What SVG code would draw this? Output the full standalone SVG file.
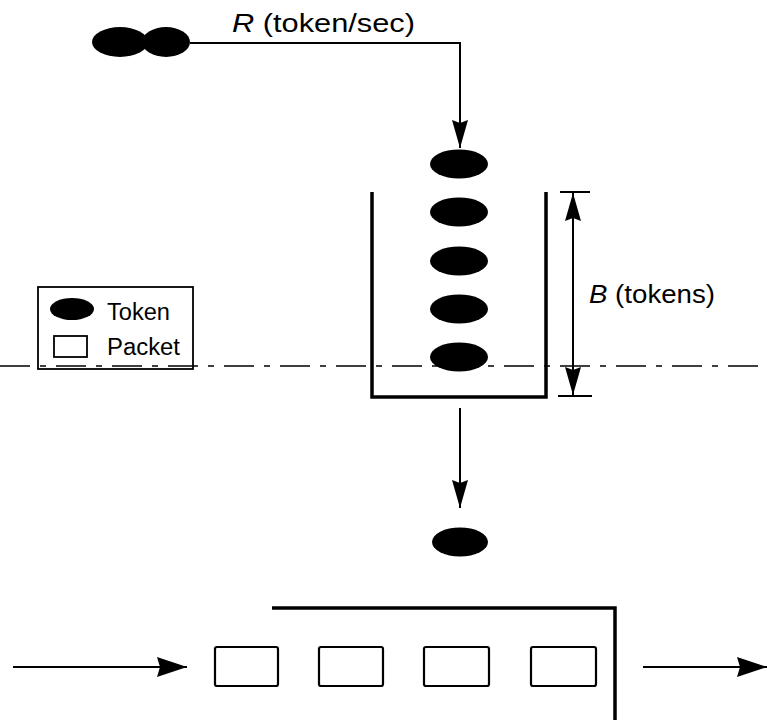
<svg xmlns="http://www.w3.org/2000/svg" width="767" height="721" viewBox="0 0 767 721">
<style>
.tok{fill:#000}
.ln{stroke:#000;fill:none;stroke-width:2}
.wall{stroke:#000;fill:none;stroke-width:3.5}
.pkt{stroke:#000;fill:#fff;stroke-width:2.2}
.txt{font-family:"Liberation Sans",Arial,sans-serif;fill:#000}
</style>
<defs>
<marker id="ah" markerUnits="userSpaceOnUse" markerWidth="32" markerHeight="22" refX="30" refY="11" orient="auto">
<path d="M0,1 L30,11 L0,21 L3,11 z" fill="#000"/>
</marker>
<marker id="av" markerUnits="userSpaceOnUse" markerWidth="30" markerHeight="18" refX="28" refY="9" orient="auto-start-reverse">
<path d="M0,1 L28,9 L0,17 L3,9 z" fill="#000"/>
</marker>
</defs>
<rect width="767" height="721" fill="#fff"/>

<g id="source">
<ellipse class="tok" cx="120" cy="42" rx="28" ry="15"/>
<ellipse class="tok" cx="166" cy="42" rx="24" ry="15"/>
</g>
<g id="rate-label">
<text class="txt" x="232" y="32" font-size="25" textLength="183" lengthAdjust="spacingAndGlyphs"><tspan font-style="italic">R</tspan> (token/sec)</text>
</g>

<g id="bucket">
<path class="wall" d="M372,192 V397 H546 V192"/>
<ellipse class="tok" cx="459" cy="164" rx="29" ry="14.5"/>
<ellipse class="tok" cx="459" cy="212" rx="29" ry="14.5"/>
<ellipse class="tok" cx="459" cy="261" rx="29" ry="14.5"/>
<ellipse class="tok" cx="459" cy="309" rx="29" ry="14.5"/>
<ellipse class="tok" cx="459" cy="357" rx="29" ry="14.5"/>
</g>

<g id="dimension">
<line class="ln" x1="560" y1="192" x2="590" y2="192" stroke-width="1.5"/>
<line class="ln" x1="558" y1="396" x2="592" y2="396" stroke-width="2.5"/>
<line class="ln" x1="573" y1="193" x2="573" y2="395" stroke-width="1.5" marker-start="url(#av)" marker-end="url(#av)"/>
<text class="txt" x="589" y="303" font-size="25" textLength="126" lengthAdjust="spacingAndGlyphs"><tspan font-style="italic">B</tspan> (tokens)</text>
</g>

<g id="legend">
<rect x="38" y="287" width="155" height="82" fill="none" stroke="#000" stroke-width="1.8"/>
<ellipse class="tok" cx="72" cy="309" rx="22" ry="11"/>
<text class="txt" x="107" y="320" font-size="23" textLength="63" lengthAdjust="spacingAndGlyphs">Token</text>
<rect x="54" y="336" width="33" height="21" fill="none" stroke="#000" stroke-width="1.8"/>
<text class="txt" x="107" y="355" font-size="23" textLength="73" lengthAdjust="spacingAndGlyphs">Packet</text>
</g>

<g id="out-token">
<ellipse class="tok" cx="460" cy="542" rx="28" ry="14.5"/>
</g>

<g id="queue">
<path class="wall" d="M272,608 H615 V720"/>
<rect class="pkt" x="215" y="647" width="63" height="39" rx="2"/>
<rect class="pkt" x="319" y="647" width="64" height="39" rx="2"/>
<rect class="pkt" x="424" y="647" width="65" height="39" rx="2"/>
<rect class="pkt" x="531" y="647" width="65" height="39" rx="2"/>
</g>

<g id="connectors">
<path class="ln" d="M190,43 H460 V148" marker-end="url(#av)"/>
<line class="ln" x1="460" y1="408" x2="460" y2="508" stroke-width="2.5" marker-end="url(#av)"/>
<line class="ln" x1="13" y1="667" x2="187" y2="667" marker-end="url(#ah)"/>
<line class="ln" x1="643" y1="667" x2="767" y2="667" marker-end="url(#ah)"/>
<line x1="0" y1="366" x2="767" y2="366" stroke="#000" stroke-width="1.5" stroke-dasharray="30 10 6 10"/>
</g>
</svg>
